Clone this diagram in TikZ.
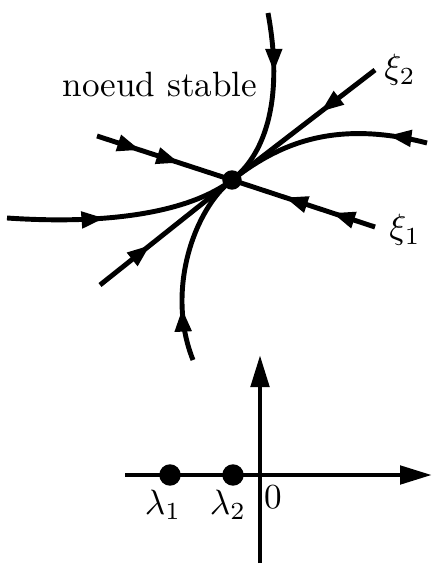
\documentclass[tikz,border=0pt]{standalone}
\usetikzlibrary{arrows.meta,decorations.markings}
\tikzset{
  traj/.style={line width=1.4pt},
  tip/.style={-{Triangle[length=3.2mm,width=1.8mm]}},
  flow/.style={postaction={decorate},decoration={markings,
      mark=at position #1 with {\arrow{Triangle[length=2.3mm,width=1.6mm]}}}},
  flowtwo/.style 2 args={postaction={decorate},decoration={markings,
      mark=at position #1 with {\arrow{Triangle[length=2.3mm,width=1.6mm]}},
      mark=at position #2 with {\arrow{Triangle[length=2.3mm,width=1.6mm]}}}}
}
\begin{document}
\begin{tikzpicture}[x=0.1mm,y=-0.1mm]
        \useasboundingbox (0,0) rectangle (439,572);

        % Node and eigen directions
        \coordinate (C) at (232,180);
        \coordinate (A1) at (97,136);
        \coordinate (B1) at (375,227);
        \coordinate (A2) at (100,285);
        \coordinate (B2) at (375,70);
        \draw[traj, flowtwo={0.32}{0.61}] (A1) -- (C);
        \draw[traj, flowtwo={0.3}{0.63}] (B1) -- (C);
        \draw[traj, flow=0.38] (B2) -- (C);
        \draw[traj, flow=0.38] (A2) -- (C);

        % Trajectories tangent to xi_2
        \coordinate (T) at (268,13);
        \coordinate (R) at (427,143);
        \coordinate (L) at (7,218);
        \coordinate (D) at (193,360);
        \draw[traj, flow=0.33] (T) .. controls (285,105) and (262,157) .. (C);
        \draw[traj, flow=0.19] (R) .. controls (330,118) and (275,147) .. (C);
        \draw[traj, flow=0.42] (L) .. controls (110,225) and (190,212) .. (C);
        \draw[traj, flow=0.27] (D) .. controls (165,290) and (195,208) .. (C);
        \filldraw[black] (C) circle (0.9mm);

        \node[anchor=base] (titre) at (160,97) {noeud stable};
        \node (xi2) at (400,70) {$\xi_2$};
        \node (xi1) at (405,230) {$\xi_1$};

        % Eigenvalues on the real axis
        \coordinate (X0) at (125,475);
        \coordinate (X1) at (432,475);
        \coordinate (Y0) at (260,563);
        \coordinate (Y1) at (260,355);
        \draw[traj, tip] (X0) -- (X1);
        \draw[traj, tip] (Y0) -- (Y1);
        \filldraw[black] (170,475) circle (1mm) coordinate (l1);
        \filldraw[black] (233,475) circle (1mm) coordinate (l2);
        \node (lab1) at (163,505) {$\lambda_1$};
        \node (lab2) at (228,505) {$\lambda_2$};
        \node (zero) at (273,497) {$0$};
    \end{tikzpicture}
\end{document}
